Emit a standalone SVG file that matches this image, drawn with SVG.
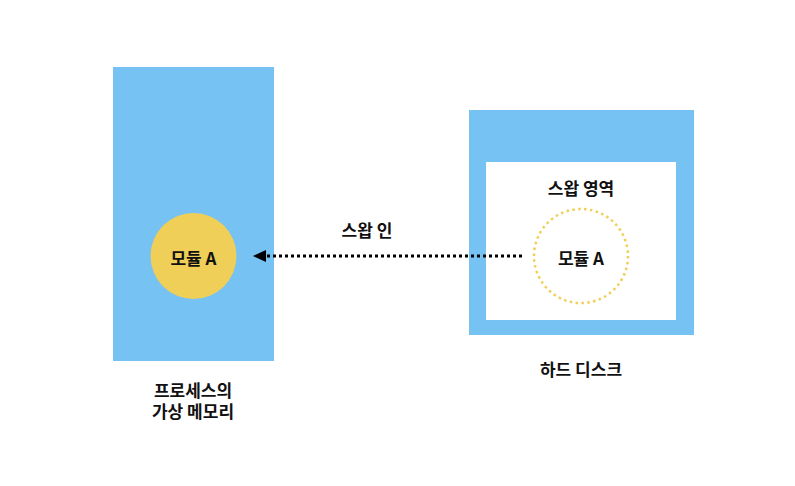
<svg xmlns="http://www.w3.org/2000/svg" width="795" height="486" viewBox="0 0 795 486">
<defs>
<style>
.blue{fill:#76C2F3}
.lbl{font-family:"Noto Sans CJK KR","Noto Sans",sans-serif;font-size:17px;font-weight:bold;fill:#111;text-anchor:middle;dominant-baseline:central}
</style>
<marker id="ah" markerWidth="13" markerHeight="12" refX="0" refY="6" orient="auto" markerUnits="userSpaceOnUse">
<path d="M0,0 L13,6 L0,12 Z" fill="#000"/>
</marker>
</defs>
<rect width="795" height="486" fill="#fff"/>
<g id="process-memory">
<rect class="blue" x="113" y="67" width="161" height="294"/>
<text class="lbl" x="193" y="389">프로세스의<tspan x="193" dy="21">가상 메모리</tspan></text>
</g>
<g id="module-a-memory">
<circle cx="193.5" cy="256" r="43" fill="#EFCF57"/>
<text class="lbl" x="193.5" y="257">모듈 A</text>
</g>
<g id="hard-disk">
<rect class="blue" x="469" y="110" width="225" height="225"/>
<rect x="486" y="162" width="190" height="158" fill="#fff"/>
<text class="lbl" x="581" y="368">하드 디스크</text>
</g>
<g id="swap-area">
<text class="lbl" x="581" y="187">스왑 영역</text>
</g>
<g id="module-a-disk">
<circle cx="581" cy="256" r="47" fill="none" stroke="#EFCF57" stroke-width="2.5" stroke-dasharray="2.5 3.4"/>
<text class="lbl" x="581" y="257">모듈 A</text>
</g>
<g id="connectors">
<line x1="522" y1="256" x2="266" y2="256" stroke="#000" stroke-width="3" stroke-dasharray="3 3" marker-end="url(#ah)"/>
<text class="lbl" x="367" y="229">스왑 인</text>
</g>
</svg>
